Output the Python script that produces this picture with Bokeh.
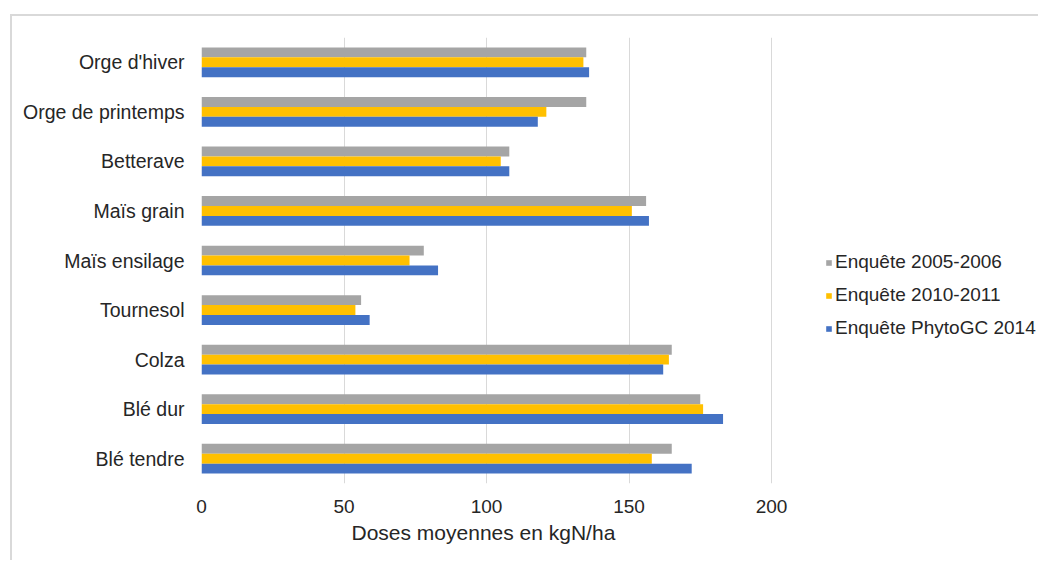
from bokeh.plotting import figure
from bokeh.models import ColumnDataSource, FixedTicker, Legend, LegendItem, Title
from bokeh.transform import dodge
from bokeh.embed import file_html
from bokeh.resources import INLINE

categories = ["Blé tendre", "Blé dur", "Colza", "Tournesol", "Maïs ensilage",
              "Maïs grain", "Betterave", "Orge de printemps", "Orge d'hiver"]
enquete_2005_2006 = [165, 175, 165, 56, 78, 156, 108, 135, 135]
enquete_2010_2011 = [158, 176, 164, 54, 73, 151, 105, 121, 134]
enquete_phytogc_2014 = [172, 183, 162, 59, 83, 157, 108, 118, 136]
series_names = ["Enquête 2005-2006", "Enquête 2010-2011", "Enquête PhytoGC 2014"]
x_ticks = [0, 50, 100, 150, 200]
x_title = "Doses moyennes  en kgN/ha"

src = ColumnDataSource(dict(cat=categories, a=enquete_2005_2006,
                            b=enquete_2010_2011, c=enquete_phytogc_2014))

FONT = "Liberation Sans"
TXT = "#262626"

W, H = 1028, 546
LEFT, TOP, BOTTOM = 189, 21, 79
frame_w = W - LEFT
x_end = 200 * frame_w / 570.0   # keep 570 px per 200 units; extra room for legend

p = figure(y_range=categories, x_range=(0, x_end), width=W, height=H,
           output_backend="svg", toolbar_location=None,
           min_border_left=LEFT, min_border_right=0,
           min_border_top=TOP, min_border_bottom=BOTTOM)
p.styles = {"margin-left": "10px", "margin-top": "14px",
            "border-left": "2px solid #D9D9D9", "border-top": "2px solid #D9D9D9"}
p.outline_line_color = None
p.background_fill_color = "white"
p.border_fill_color = "white"

colors = ["#A5A5A5", "#FFC000", "#4472C4"]
offsets = [0.2, 0.0, -0.2]
renderers = []
for col, color, off in zip(["a", "b", "c"], colors, offsets):
    r = p.hbar(y=dodge("cat", off, range=p.y_range), left=0, right=col,
               height=0.2, source=src, fill_color=color, line_color=None)
    renderers.append(r)

p.xaxis.ticker = FixedTicker(ticks=x_ticks)
p.xgrid.grid_line_color = "#D9D9D9"
p.xgrid.grid_line_width = 1
p.ygrid.grid_line_color = None

for ax in (p.xaxis[0], p.yaxis[0]):
    ax.axis_line_color = None
    ax.major_tick_line_color = None
    ax.minor_tick_line_color = None
    ax.major_tick_out = 0
    ax.minor_tick_out = 0
    ax.major_label_text_font = FONT
    ax.major_label_text_color = TXT

p.yaxis.major_label_text_font_size = "19.5px"
p.xaxis.major_label_text_font_size = "19px"
p.yaxis.major_label_standoff = 17
p.xaxis.major_label_standoff = 16

xt = Title(text=x_title, align="left", offset=150, standoff=6,
           text_font=FONT, text_font_size="21px", text_font_style="normal",
           text_color=TXT)
p.add_layout(xt, "below")

legend = Legend(items=[LegendItem(label=n, renderers=[r]) for n, r in zip(series_names, renderers)],
                location=(624, 144), orientation="vertical",
                glyph_width=7, glyph_height=7, label_standoff=3,
                label_text_font=FONT, label_text_font_size="19px",
                label_text_color=TXT, label_height=22, spacing=11,
                padding=0, margin=0, border_line_color=None,
                background_fill_alpha=0)
p.add_layout(legend, "center")

open("out.html", "w").write(file_html(p, INLINE))
